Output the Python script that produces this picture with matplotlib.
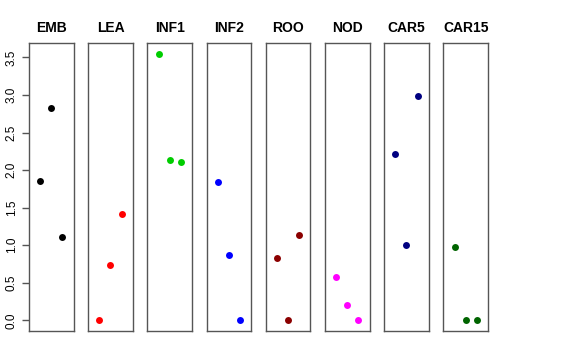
import matplotlib
matplotlib.use("Agg")
import matplotlib.pyplot as plt

plt.rcParams['font.family'] = ['Liberation Sans', 'DejaVu Sans']

tissues = ['EMB', 'LEA', 'INF1', 'INF2', 'ROO', 'NOD', 'CAR5', 'CAR15']
colors = ['black', 'red', '#00CD00', 'blue', '#8B0000', 'magenta', '#000080', '#006400']
values = [
    [1.86, 2.83, 1.11],
    [0.0, 0.74, 1.42],
    [3.55, 2.13, 2.11],
    [1.84, 0.87, 0.0],
    [0.83, 0.0, 1.13],
    [0.58, 0.20, 0.0],
    [2.21, 1.00, 2.98],
    [0.98, 0.0, 0.0],
]
reps = [1, 2, 3]
yticks = [0.0, 0.5, 1.0, 1.5, 2.0, 2.5, 3.0, 3.5]

W, H = 576, 360
fig = plt.figure(figsize=(W / 100, H / 100), dpi=100)

top, bottom = 43, 331
for i, (name, col, vals) in enumerate(zip(tissues, colors, values)):
    left = 29 + 59.2 * i
    ax = fig.add_axes([left / W, 1 - bottom / H, 44.5 / W, (bottom - top) / H])
    ax.plot(reps, vals, 'o', color=col, markersize=5, markeredgewidth=0)
    ax.set_xlim(0, 4)
    ax.set_ylim(-0.142, 3.692)
    ax.set_xticks([])
    for s in ax.spines.values():
        s.set_color('#555555')
        s.set_linewidth(1)
    ax.set_title(name, fontsize=10, fontweight='bold', pad=8)
    if i == 0:
        ax.set_yticks(yticks)
        ax.set_yticklabels([f'{t:.1f}' for t in yticks], rotation=90, va='center', fontsize=8.5)
        ax.tick_params(axis='y', length=5, width=1, color='#555555', pad=3)
    else:
        ax.set_yticks([])

fig.savefig('out.png', dpi=100)
